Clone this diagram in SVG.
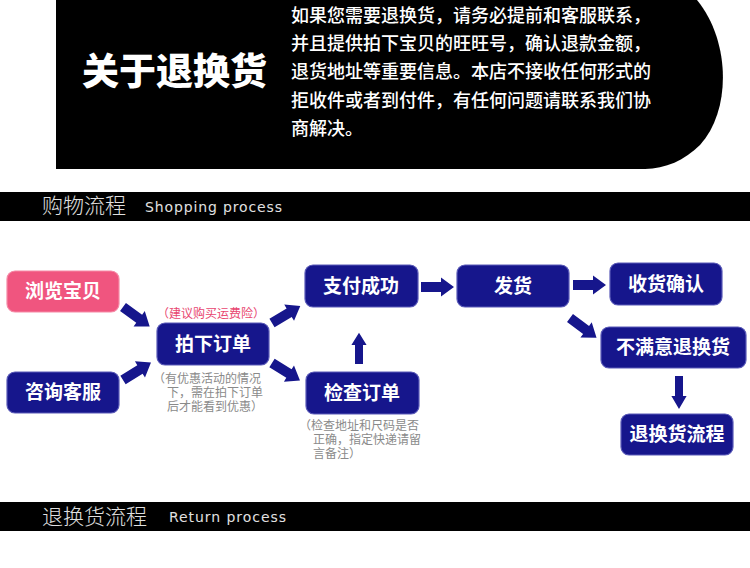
<svg xmlns="http://www.w3.org/2000/svg" width="750" height="568" viewBox="0 0 750 568">
<style>
.cjk{font-family:"Noto Sans CJK SC","Noto Sans",sans-serif}
.box{fill:#16168c;stroke:#5a5ab8;stroke-width:1.2}
.pink{fill:#f0557f;stroke:#f58aa6;stroke-width:1.2}
.bt{font-family:"Noto Sans CJK SC","Noto Sans",sans-serif;font-size:19px;font-weight:bold;fill:#fff;text-anchor:middle}
.note{font-family:"Noto Sans CJK SC","Noto Sans",sans-serif;font-size:12px;fill:#8a8a8a}
.para{font-family:"Noto Sans CJK SC","Noto Sans",sans-serif;font-size:18px;font-weight:500;fill:#fff}
.bar{font-family:"Noto Sans CJK SC","Noto Sans",sans-serif;font-size:21px;font-weight:300;fill:#e0e0e0}
.en{font-family:"DejaVu Sans",sans-serif;font-size:14px;fill:#e0e0e0}
.arr{fill:#16168c}
</style>
<defs>
<path id="a" d="M0,-5 L20,-5 L20,-9.5 L33,0 L20,9.5 L20,5 L0,5 Z"/>
</defs>
<rect width="750" height="568" fill="#fff"/>
<g id="intro">
<path d="M56,0 H697 C730,40 732,110 700,145 C685,160 665,169 645,169 H56 Z" fill="#000"/>
<text class="cjk" x="82" y="85" font-size="37" font-weight="900" fill="#fff">关于退换货</text>
<text class="para"><tspan x="291" y="22">如果您需要退换货，请务必提前和客服联系，</tspan><tspan x="291" y="50">并且提供拍下宝贝的旺旺号，确认退款金额，</tspan><tspan x="291" y="78">退货地址等重要信息。本店不接收任何形式的</tspan><tspan x="291" y="107">拒收件或者到付件，有任何问题请联系我们协</tspan><tspan x="291" y="135">商解决。</tspan></text>
</g>
<g id="bar-shopping">
<rect x="0" y="192" width="750" height="29" fill="#000"/>
<text class="bar" x="42" y="213">购物流程</text>
<text class="en" x="145" y="212" textLength="137">Shopping process</text>
</g>
<g id="connectors">
<use href="#a" class="arr" transform="translate(123,307) rotate(36)"/>
<use href="#a" class="arr" transform="translate(123,380) rotate(-32)"/>
<use href="#a" class="arr" transform="translate(272,323) rotate(-31)"/>
<use href="#a" class="arr" transform="translate(272,363) rotate(32)"/>
<use href="#a" class="arr" transform="translate(359,364) rotate(-90) scale(0.95,0.8)"/>
<use href="#a" class="arr" transform="translate(421,287)"/>
<use href="#a" class="arr" transform="translate(573,285)"/>
<use href="#a" class="arr" transform="translate(570,318) rotate(36.5)"/>
<use href="#a" class="arr" transform="translate(679,376) rotate(90) scale(1,0.8)"/>
</g>
<g id="n-browse">
<rect class="pink" x="7" y="271" width="112" height="41" rx="8"/>
<text class="bt" x="63" y="298">浏览宝贝</text>
</g>
<g id="n-consult">
<rect class="box" x="7" y="372" width="112" height="41" rx="8"/>
<text class="bt" x="63" y="399">咨询客服</text>
</g>
<g id="n-order">
<rect class="box" x="157" y="323" width="112" height="42" rx="8"/>
<text class="bt" x="213" y="351">拍下订单</text>
<text class="cjk" x="157" y="318" font-size="12" fill="#e8456f">（建议购买运费险）</text>
<text class="note"><tspan x="153" y="383">（有优惠活动的情况</tspan><tspan x="167" y="397">下，需在拍下订单</tspan><tspan x="167" y="411">后才能看到优惠）</tspan></text>
</g>
<g id="n-pay">
<rect class="box" x="305" y="265" width="113" height="42" rx="8"/>
<text class="bt" x="361" y="293">支付成功</text>
</g>
<g id="n-check">
<rect class="box" x="306" y="372" width="113" height="42" rx="8"/>
<text class="bt" x="362" y="400">检查订单</text>
<text class="note"><tspan x="299" y="430">（检查地址和尺码是否</tspan><tspan x="313" y="444">正确，指定快递请留</tspan><tspan x="313" y="458">言备注）</tspan></text>
</g>
<g id="n-ship">
<rect class="box" x="457" y="265" width="112" height="42" rx="8"/>
<text class="bt" x="513" y="293">发货</text>
</g>
<g id="n-receive">
<rect class="box" x="610" y="263" width="112" height="42" rx="8"/>
<text class="bt" x="666" y="291">收货确认</text>
</g>
<g id="n-unhappy">
<rect class="box" x="601" y="327" width="145" height="41" rx="8"/>
<text class="bt" x="673" y="354">不满意退换货</text>
</g>
<g id="n-return">
<rect class="box" x="621" y="414" width="112" height="41" rx="8"/>
<text class="bt" x="677" y="441">退换货流程</text>
</g>
<g id="bar-return">
<rect x="0" y="502" width="750" height="29" fill="#000"/>
<text class="bar" x="42" y="524">退换货流程</text>
<text class="en" x="169" y="522" textLength="117">Return process</text>
</g>
</svg>
